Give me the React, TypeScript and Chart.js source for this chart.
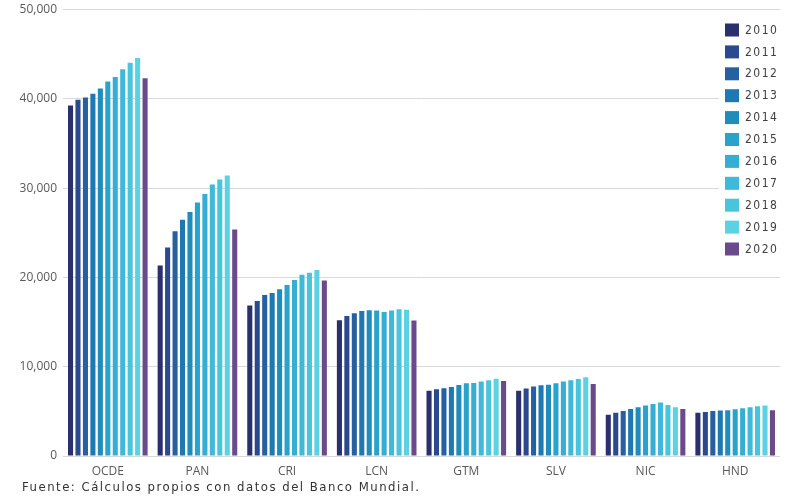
import React, { useEffect, useRef } from "react";
import { Chart, registerables } from "chart.js";

Chart.register(...registerables);

const categories = ["OCDE", "PAN", "CRI", "LCN", "GTM", "SLV", "NIC", "HND"];
const years = ["2010", "2011", "2012", "2013", "2014", "2015", "2016", "2017", "2018", "2019", "2020"];
const yearColors = [
  "#2a2f6e", "#2b4a8e", "#2660a0", "#1e78b2", "#208cbc", "#2aa3cc",
  "#36aed4", "#3fb9d9", "#48c4dd", "#5ad2e2", "#6b4a8c",
];

// Values by year (2010..2020) for each category
const OCDE = [39250, 39890, 40140, 40560, 41150, 41930, 42450, 43300, 44050, 44570, 42290];
const PAN = [21330, 23340, 25170, 26460, 27320, 28400, 29330, 30410, 30970, 31410, 25350];
const CRI = [16840, 17360, 18030, 18250, 18660, 19150, 19700, 20290, 20520, 20820, 19660];
const LCN = [15200, 15690, 15980, 16250, 16310, 16280, 16130, 16280, 16420, 16390, 15170];
const GTM = [7320, 7470, 7580, 7730, 7950, 8140, 8180, 8330, 8470, 8660, 8400];
const SLV = [7320, 7550, 7770, 7920, 7990, 8140, 8330, 8470, 8620, 8810, 8060];
const NIC = [4610, 4830, 5050, 5270, 5460, 5650, 5830, 5990, 5720, 5460, 5270];
const HND = [4830, 4940, 5050, 5090, 5130, 5240, 5350, 5460, 5580, 5650, 5130];

const seriesByCategory = [OCDE, PAN, CRI, LCN, GTM, SLV, NIC, HND];

const yTicks = [0, 10000, 20000, 30000, 40000, 50000];

const footerText = "Fuente: Cálculos propios con datos del Banco Mundial.";

const narrowFont = '"Liberation Sans Narrow", "DejaVu Sans Condensed", "Roboto", sans-serif';

const overlayLegend = {
  id: "overlayLegend",
  afterDatasetsDraw(chart: any) {
    const ctx = chart.ctx as CanvasRenderingContext2D;
    const area = chart.chartArea;
    const boxX = area.right - 55;
    ctx.save();
    ctx.fillStyle = "#ffffff";
    ctx.fillRect(boxX - 6, area.top + 5, chart.width - boxX + 6, 250);
    ctx.font = "12px " + narrowFont;
    (ctx as any).letterSpacing = "1.5px";
    ctx.textBaseline = "middle";
    ctx.textAlign = "left";
    chart.data.datasets.forEach((ds: any, i: number) => {
      const cy = area.top + 20.5 + i * 21.9;
      ctx.fillStyle = ds.backgroundColor;
      ctx.fillRect(boxX, cy - 6.5, 14, 13);
      ctx.fillStyle = "#404040";
      ctx.fillText(ds.label, boxX + 20, cy + 0.5);
    });
    ctx.restore();
  },
};

export default function App() {
  const canvasRef = useRef<HTMLCanvasElement | null>(null);

  useEffect(() => {
    if (!canvasRef.current) return;
    const datasets = years.map((y, i) => ({
      label: y,
      data: seriesByCategory.map((s) => s[i]),
      backgroundColor: yearColors[i],
      borderWidth: 0,
      categoryPercentage: 0.915,
      barPercentage: 0.68,
    }));
    const chart = new Chart(canvasRef.current, {
      type: "bar",
      data: { labels: categories, datasets },
      plugins: [overlayLegend],
      options: {
        responsive: true,
        maintainAspectRatio: false,
        animation: false,
        layout: { padding: { left: 8, right: 15, top: 9.5, bottom: 16 } },
        plugins: {
          legend: { display: false },
          tooltip: { enabled: false },
          title: { display: false },
        },
        scales: {
          x: {
            grid: { display: false },
            border: { display: false },
            ticks: {
              color: "#595959",
              font: { family: '"Open Sans", sans-serif', size: 12 },
              padding: 0,
              maxRotation: 0,
            },
            afterFit: (s: any) => {
              s.height = 30;
            },
          },
          y: {
            min: 0,
            max: 50000,
            afterBuildTicks: (s: any) => {
              s.ticks = yTicks.map((v) => ({ value: v }));
            },
            grid: { color: "#d9d9d9", lineWidth: 1, drawTicks: false },
            border: { display: false },
            ticks: {
              color: "#595959",
              font: { family: '"Open Sans", sans-serif', size: 12 },
              padding: 6,
              callback: (v: any) => Number(v).toLocaleString("en-US"),
            },
            afterFit: (s: any) => {
              s.width = 55;
              s.paddingTop = 0;
              s.paddingBottom = 0;
            },
          },
        },
      },
    });
    return () => chart.destroy();
  }, []);

  return (
    <div style={{ position: "fixed", left: 0, top: 0, width: 795, height: 502, background: "#fff" }}>
      <canvas ref={canvasRef} />
      <div
        style={{
          position: "absolute",
          left: 22,
          top: 479,
          fontFamily: narrowFont,
          fontSize: 13,
          letterSpacing: "1.5px",
          color: "#333333",
          whiteSpace: "nowrap",
        }}
      >
        {footerText}
      </div>
    </div>
  );
}
